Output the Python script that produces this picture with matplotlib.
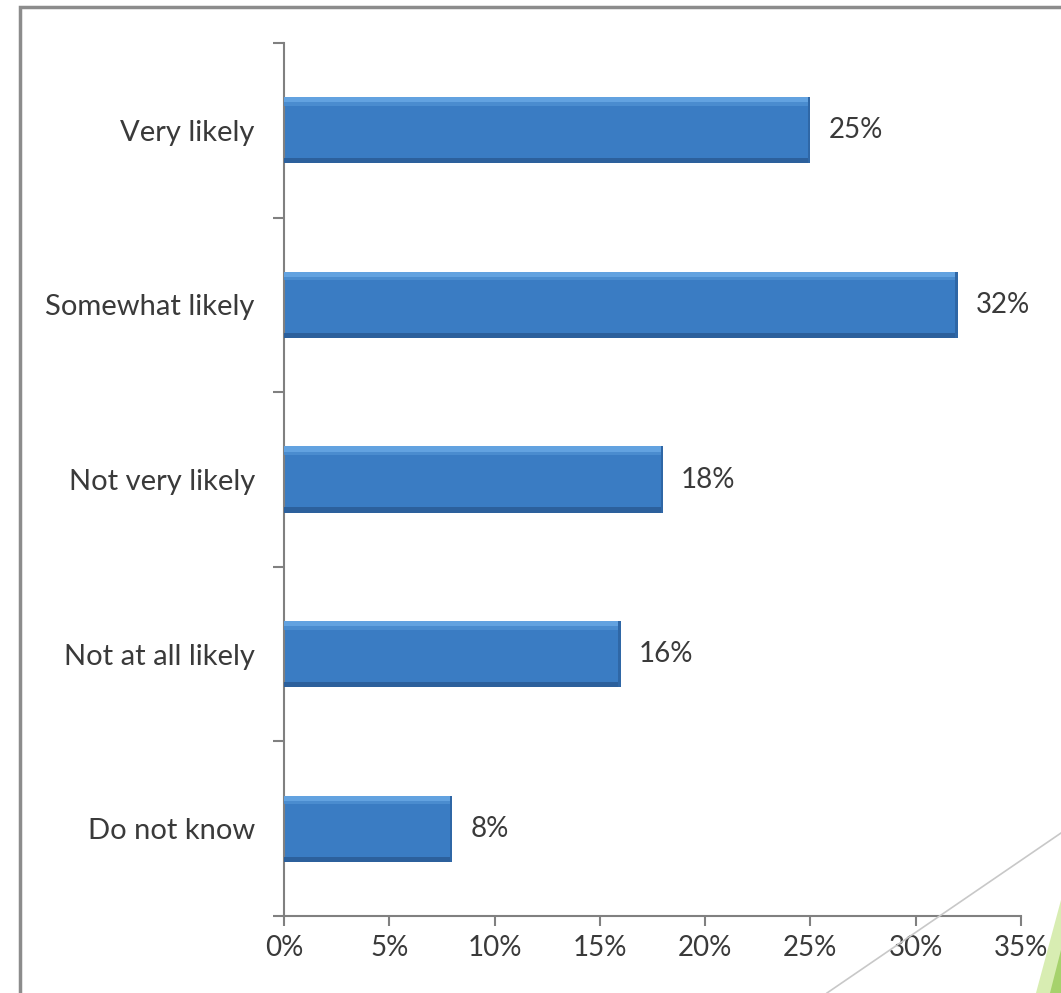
import matplotlib.pyplot as plt
from matplotlib.patches import Rectangle, Polygon
from matplotlib.lines import Line2D

# survey answers, top to bottom
categories = ["Very likely", "Somewhat likely", "Not very likely", "Not at all likely", "Do not know"]
values = [25, 32, 18, 16, 8]
xticks = [0, 5, 10, 15, 20, 25, 30, 35]
xtick_labels = ["0%", "5%", "10%", "15%", "20%", "25%", "30%", "35%"]

plt.rcParams['font.family'] = ['Lato', 'DejaVu Sans']
W, H = 1061, 993
fs = 20
txt = "#3a3a3a"
fig = plt.figure(figsize=(W / 100, H / 100), dpi=100)

# slide frame and decoration
fig.patches.append(Rectangle((20 / W, -0.1), 1.2, 1 - 7 / H + 0.1, transform=fig.transFigure,
                             fill=False, edgecolor="#8c8c8c", linewidth=2.5))
fig.lines.append(Line2D([827 / W, 1.0], [0.0, 1 - 833 / H], transform=fig.transFigure,
                        color="#c8c8c8", linewidth=1.2))
fig.patches.append(Polygon([(1036 / W, 0), (1.0, 0), (1.0, 1 - 900 / H)], closed=True,
                           transform=fig.transFigure, facecolor="#d8edb2", edgecolor="none"))
fig.patches.append(Polygon([(1050 / W, 0), (1.0, 0), (1.0, 1 - 950 / H)], closed=True,
                           transform=fig.transFigure, facecolor="#a6d26c", edgecolor="none"))

ax = fig.add_axes([284 / W, 1 - 916 / H, (1021 - 284) / W, (916 - 43) / H])

pos = list(range(len(categories)))
bh = 0.38
ax.barh(pos, values, height=bh, color="#3a7cc3", edgecolor="none", zorder=2)
# bevel look: light top strip, dark bottom strip and right edge
ax.barh([p - bh / 2 + 0.015 for p in pos], values, height=0.03, color="#62a2e0", edgecolor="none", zorder=3)
ax.barh([p - bh / 2 + 0.04 for p in pos], values, height=0.02, color="#4a8ccf", edgecolor="none", zorder=3)
ax.barh([p + bh / 2 - 0.015 for p in pos], values, height=0.03, color="#2c609c", edgecolor="none", zorder=3)
ax.barh(pos, [0.12] * len(values), left=[v - 0.12 for v in values], height=bh,
        color="#2f67a6", edgecolor="none", zorder=3)

for p, v in zip(pos, values):
    ax.annotate(f"{v}%", (v, p), xytext=(13, 0), textcoords="offset points",
                va="center", ha="left", fontsize=fs, color=txt)

ax.set_xlim(0, 35)
ax.set_ylim(len(categories) - 0.5, -0.5)
ax.set_xticks(xticks)
ax.set_xticklabels(xtick_labels, fontsize=fs, color=txt)
ax.set_yticks([p - 0.5 for p in pos] + [len(pos) - 0.5])
ax.set_yticklabels([])
ax.set_yticks(pos, minor=True)
ax.set_yticklabels(categories, minor=True, fontsize=21, color=txt)

ax.tick_params(axis="y", which="major", direction="out", length=8, width=1.5, color="#808080")
ax.tick_params(axis="y", which="minor", length=0, pad=21)
ax.tick_params(axis="x", direction="out", length=7, width=1.5, color="#808080", pad=7)

for s in ["top", "right"]:
    ax.spines[s].set_visible(False)
for s in ["left", "bottom"]:
    ax.spines[s].set_color("#808080")
    ax.spines[s].set_linewidth(1.5)

fig.savefig("out.png", dpi=100)
